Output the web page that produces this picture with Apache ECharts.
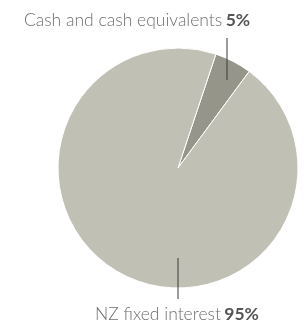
<!DOCTYPE html>
<html>
<head>
<meta charset="utf-8">
<script src="https://cdn.jsdelivr.net/npm/echarts@6/dist/echarts.min.js"></script>
<style>
html, body { margin: 0; padding: 0; background: #fff; }
#chart { width: 304px; height: 324px; }
</style>
</head>
<body>
<div id="chart"></div>
<script>
var categories = ['Cash and cash equivalents', 'NZ fixed interest'];
var values = [5, 95];
var colors = ['#96958a', '#c0c0b4'];

// where each label and its leader line go
var labelSpots = [
  { x: 137, y: 20, line: [227, 38, 227, 80] },
  { x: 177, y: 314, line: [178, 258, 178, 299] }
];

var myChart = echarts.init(document.getElementById('chart'));
var option = {
  animation: false,
  graphic: labelSpots.map(function (s) {
    return {
      type: 'line', z: 100, silent: true,
      shape: { x1: s.line[0], y1: s.line[1], x2: s.line[2], y2: s.line[3] },
      style: { stroke: '#3a3a3a', lineWidth: 1 }
    };
  }),
  series: [{
    type: 'pie',
    center: [178, 168],
    radius: 120,
    startAngle: 71.6,
    avoidLabelOverlap: false,
    itemStyle: { borderColor: '#fff', borderWidth: 1 },
    label: {
      show: true,
      position: 'outside',
      formatter: function (p) {
        return '{n|' + p.name + '} {b|' + p.value + '%}';
      },
      rich: {
        n: { fontSize: 17.5, color: '#6e6e6e', fontWeight: 300, fontFamily: 'Lato' },
        b: { fontSize: 17.5, color: '#555', fontWeight: 'bold', fontFamily: 'Lato' }
      }
    },
    labelLine: { show: false },
    labelLayout: function (p) {
      var s = labelSpots[p.dataIndex];
      return { x: s.x, y: s.y, align: 'center', verticalAlign: 'middle' };
    },
    emphasis: { disabled: true },
    data: categories.map(function (c, i) {
      return { name: c, value: values[i], itemStyle: { color: colors[i] } };
    })
  }]
};
myChart.setOption(option);
</script>
</body>
</html>
